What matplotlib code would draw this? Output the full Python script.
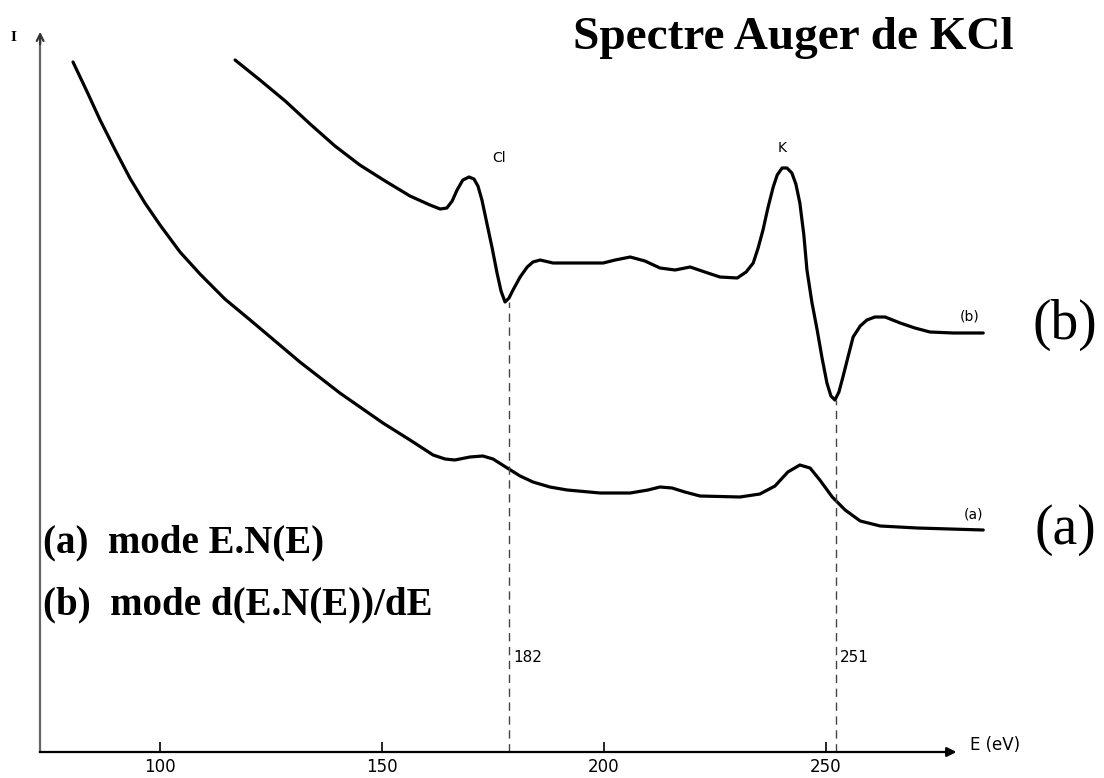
import numpy as np
from matplotlib import pyplot as plt

# Spectre Auger de KCl : (a) E.N(E), (b) d(E.N(E))/dE
energie_a = [80.4, 83.6, 86.5, 89.9, 93.2, 96.6, 100.0, 104.5, 109.0, 114.6, 120.3,
             125.9, 131.5, 140.5, 150.2, 156.3, 161.5, 164.2, 166.4, 169.8, 172.7,
             175.0, 178.2, 181.1, 184.0, 187.8, 191.7, 199.1, 205.9, 209.9, 212.6,
             215.3, 218.2, 221.6, 230.6, 235.1, 238.5, 241.4, 244.1, 246.4, 248.6,
             251.4, 254.3, 257.7, 262.2, 270.5, 285.4]
intens_a = [6.90, 6.60, 6.32, 6.02, 5.74, 5.49, 5.27, 5.00, 4.78, 4.53, 4.32,
            4.11, 3.90, 3.59, 3.29, 3.12, 2.97, 2.93, 2.92, 2.95, 2.96,
            2.93, 2.84, 2.76, 2.70, 2.65, 2.62, 2.59, 2.59, 2.62, 2.65,
            2.64, 2.60, 2.56, 2.55, 2.58, 2.66, 2.80, 2.87, 2.84, 2.72,
            2.55, 2.42, 2.31, 2.26, 2.24, 2.22]

energie_b = [116.9, 122.5, 128.2, 133.8, 139.4, 145.0, 150.7, 156.3, 160.8, 163.1,
             164.6, 165.8, 166.9, 168.2, 169.6, 170.7, 171.6, 172.5, 173.6, 174.8,
             175.9, 176.8, 177.7, 178.6, 179.5, 181.1, 182.7, 184.0, 185.6, 188.5,
             199.8, 202.5, 205.9, 209.2, 212.6, 216.0, 219.4, 222.7, 226.1, 230.0,
             232.0, 233.6, 234.7, 235.8, 236.9, 238.1, 239.0, 240.1, 241.2, 242.3,
             243.2, 244.1, 245.0, 245.7, 246.8, 248.0, 249.1, 250.2, 251.1, 252.0,
             252.9, 253.8, 255.0, 256.1, 257.7, 259.2, 261.0, 263.3, 266.7, 270.0,
             273.4, 278.6, 285.4]
intens_b = [6.92, 6.72, 6.51, 6.28, 6.06, 5.87, 5.71, 5.56, 5.47, 5.43,
            5.44, 5.51, 5.62, 5.72, 5.75, 5.73, 5.66, 5.52, 5.29, 5.04,
            4.79, 4.61, 4.50, 4.54, 4.62, 4.75, 4.85, 4.90, 4.92, 4.89,
            4.89, 4.92, 4.95, 4.91, 4.84, 4.82, 4.85, 4.80, 4.75, 4.74,
            4.80, 4.89, 5.04, 5.22, 5.44, 5.65, 5.77, 5.84, 5.84, 5.79,
            5.68, 5.49, 5.17, 4.82, 4.50, 4.22, 3.94, 3.69, 3.56, 3.52,
            3.60, 3.75, 3.96, 4.15, 4.26, 4.32, 4.35, 4.35, 4.29, 4.24,
            4.20, 4.19, 4.19]

# minima of (b) -> dashed markers
pics_E = [178.6, 252.3]
pics_I = [4.50, 3.52]
pics_labels = ['182', '251']

ticks_E = [100, 150, 200, 250]

fig = plt.figure(figsize=(11.04, 7.78), dpi=100)
ax = fig.add_axes([0, 0, 1, 1])
ax.set_xlim(63.96, 312.6)
ax.set_ylim(-0.26, 7.52)

ax.plot(energie_a, intens_a, color='black', lw=2.3, solid_joinstyle='round', solid_capstyle='round')
ax.plot(energie_b, intens_b, color='black', lw=2.3, solid_joinstyle='round', solid_capstyle='round')

for e, i, lab in zip(pics_E, pics_I, pics_labels):
    ax.plot([e, e], [0, i], color='#444444', lw=1.0, ls=(0, (6, 4)))
    ax.text(e + 0.9, 0.95, lab, fontsize=11, family='DejaVu Sans', va='center', ha='left')

# axes drawn as spines
for s in ['top', 'right']:
    ax.spines[s].set_visible(False)
ax.spines['bottom'].set_position(('data', 0))
ax.spines['bottom'].set_bounds(73, 278)
ax.spines['bottom'].set_linewidth(1.6)
ax.spines['left'].set_position(('data', 73))
ax.spines['left'].set_bounds(0, 7.1)
ax.spines['left'].set_linewidth(1.6)
ax.spines['left'].set_color('#666666')
ax.set_yticks([])
ax.set_xticks(ticks_E)
ax.set_xticklabels([str(t) for t in ticks_E])
ax.tick_params(axis='x', direction='in', length=7, width=1.2, pad=4, labelsize=12)
ax.annotate('', xy=(280, 0), xytext=(276, 0),
            arrowprops=dict(arrowstyle='-|>', color='black', lw=1.6, mutation_scale=14))
ax.annotate('', xy=(73, 7.23), xytext=(73, 7.05),
            arrowprops=dict(arrowstyle='->', color='#333333', lw=1.6, mutation_scale=12))

ax.text(282.4, 0.07, 'E (eV)', fontsize=12, va='center', ha='left')
ax.text(66.9, 7.14, 'I', fontsize=11, fontweight='bold', family='Liberation Serif', va='center', ha='center')

ax.text(176.4, 5.94, 'Cl', fontsize=10, va='center', ha='center')
ax.text(240.1, 6.04, 'K', fontsize=10, va='center', ha='center')
ax.text(282.4, 4.35, '(b)', fontsize=10, va='center', ha='center')
ax.text(283.1, 2.37, '(a)', fontsize=10, va='center', ha='center')

ax.text(242.6, 7.14, 'Spectre Auger de KCl', fontsize=34, fontweight='bold',
        family='Liberation Serif', va='center', ha='center')
ax.text(303.8, 4.27, '(b)', fontsize=40, family='Liberation Serif', va='center', ha='center')
ax.text(303.8, 2.22, '(a)', fontsize=40, family='Liberation Serif', va='center', ha='center')
ax.text(73.6, 2.09, '(a)  mode E.N(E)', fontsize=28, fontweight='bold',
        family='Liberation Serif', va='center', ha='left')
ax.text(73.6, 1.47, '(b)  mode d(E.N(E))/dE', fontsize=28, fontweight='bold',
        family='Liberation Serif', va='center', ha='left')

fig.savefig('out.png', dpi=100)
